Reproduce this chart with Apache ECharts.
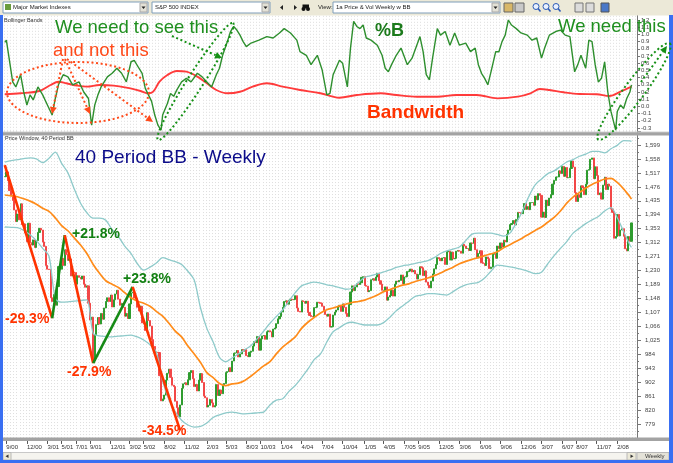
<!DOCTYPE html>
<html><head><meta charset="utf-8">
<script src="https://cdn.jsdelivr.net/npm/echarts@6/dist/echarts.min.js"></script>
<style>html,body{margin:0;padding:0;background:#fff;}#c{width:673px;height:463px;}</style>
</head><body><div id="c"></div>
<script>
// ---------------- DATA (read / estimated from the picture) ----------------
const weekStart = '2000-08-25';   // first weekly bar (Friday)
const weekCount = 401;            // weekly slots on the time axis

// Weekly closes of the S&P 500 index
const closes2000 = [1506,1520,1494,1465,1449,1436,1408,1374,1396,1379,1426,1365,1367,1341,1315,1369,1312,1305,1320];
const closes2001 = [1298,1318,1342,1354,1349,1314,1301,1245,1234,1233,1150,1139,1160,1128,1183,1242,1234,1266,1245,1291,1277,1260,1264,1214,1225,1224,1190,1215,1210,1205,1214,1190,1181,1185,1134,1085,1093,966,1041,1071,1092,1073,1104,1087,1120,1139,1150,1139,1158,1123,1144,1161];
const closes2002 = [1172,1146,1128,1133,1122,1096,1104,1089,1132,1164,1166,1149,1147,1122,1111,1125,1076,1073,1054,1106,1083,1067,1027,1007,990,990,989,921,847,852,864,908,928,940,916,893,889,846,827,800,835,884,897,900,894,909,930,936,912,889,895,876];
const closes2003 = [908,927,901,861,856,829,834,851,841,829,833,895,863,879,868,893,898,930,933,944,933,964,987,988,995,976,985,998,993,998,980,977,990,993,1008,1021,1018,1036,996,1029,1038,1039,1028,1050,1053,1050,1035,1058,1061,1074,1088,1095];
const closes2004 = [1108,1122,1139,1141,1131,1142,1146,1144,1145,1156,1120,1110,1108,1141,1139,1134,1140,1107,1098,1095,1094,1121,1122,1137,1135,1134,1125,1112,1101,1096,1102,1064,1065,1099,1108,1114,1123,1128,1110,1132,1122,1104,1095,1130,1167,1185,1171,1182,1191,1189,1194,1210,1212];
const closes2005 = [1186,1184,1168,1171,1203,1206,1201,1211,1222,1200,1190,1172,1172,1182,1143,1152,1157,1172,1155,1190,1199,1197,1201,1217,1191,1211,1212,1227,1229,1234,1226,1230,1220,1205,1218,1241,1238,1215,1229,1196,1187,1179,1199,1220,1235,1248,1268,1265,1259,1267,1268,1248];
const closes2006 = [1285,1287,1261,1284,1264,1266,1287,1289,1287,1281,1307,1302,1295,1295,1289,1311,1310,1325,1291,1267,1280,1288,1253,1251,1245,1270,1265,1236,1240,1278,1280,1266,1302,1295,1311,1299,1319,1314,1336,1349,1365,1368,1377,1364,1380,1401,1400,1397,1409,1427,1410,1418];
const closes2007 = [1409,1430,1430,1422,1449,1438,1456,1451,1387,1402,1386,1437,1421,1443,1453,1484,1495,1505,1505,1523,1515,1536,1507,1533,1503,1503,1530,1552,1534,1459,1433,1453,1445,1479,1474,1453,1484,1525,1527,1557,1561,1500,1535,1509,1453,1458,1440,1481,1504,1468,1484,1478];
const closes2008 = [1411,1401,1325,1330,1395,1332,1349,1353,1331,1294,1288,1330,1316,1370];

// 40 period Bollinger bands, read every 4th week (last point = final week)
const bandUpper = [1549,1553,1556,1559,1561,1558,1547,1560,1578,1545,1517,1470,1428,1400,1384,1384,1378,1350,1330,1302,1280,1250,1231,1240,1252,1268,1262,1256,1248,1228,1202,1120,1060,1020,975,962,973,985,997,1010,1030,1052,1075,1095,1114,1140,1165,1185,1192,1196,1193,1188,1185,1180,1175,1178,1195,1210,1215,1220,1226,1232,1239,1244,1247,1251,1255,1259,1268,1280,1288,1293,1299,1318,1337,1340,1340,1340,1336,1331,1340,1370,1405,1448,1482,1499,1515,1523,1536,1549,1556,1566,1572,1580,1580,1576,1588,1598,1612,1611,1610];
const bandMid   = [1452,1450,1447,1441,1434,1425,1413,1404,1385,1362,1347,1326,1305,1280,1248,1222,1200,1190,1180,1165,1150,1140,1134,1125,1110,1096,1075,1052,1035,1008,985,960,930,915,898,892,897,899,907,920,935,950,962,985,1005,1020,1035,1060,1078,1092,1105,1115,1120,1126,1131,1136,1139,1143,1150,1158,1168,1174,1181,1187,1191,1198,1203,1208,1215,1223,1232,1240,1250,1257,1263,1268,1274,1279,1285,1297,1306,1316,1326,1337,1348,1358,1372,1386,1405,1428,1446,1459,1472,1483,1491,1499,1501,1489,1470,1447,1440];
const bandLower = [1358,1357,1356,1348,1335,1318,1295,1272,1148,1137,1138,1140,1142,1144,1045,1038,1036,1035,1037,1039,1040,1035,1026,1012,990,905,850,815,790,776,770,772,782,798,806,812,814,811,809,810,812,814,835,849,853,875,892,915,940,968,985,1020,1050,1062,1074,1078,1074,1070,1070,1070,1077,1093,1112,1126,1140,1154,1158,1162,1162,1160,1158,1168,1180,1188,1192,1195,1208,1228,1246,1244,1241,1237,1233,1227,1221,1225,1250,1274,1295,1315,1340,1354,1368,1379,1389,1405,1415,1385,1345,1305,1298];

// %B (upper panel, green) : week index / value
const pctBWeek = [0,1,5,7,10,12,14,16,18,21,24,27,30,32,34,37,40,43,47,50,53,55,57,59,61,65,68,71,74,77,80,82,85,87,89,91,93,95,97,99,100,103,105,107,109,112,115,118,122,125,128,131,134,136,138,141,143,145,147,149,151,153,156,161,166,170,174,177,181,185,187,191,194,198,201,204,206,208,212,214,217,219,221,223,225,227,229,232,236,239,241,243,245,248,251,255,258,261,263,265,267,269,271,274,276,279,282,285,288,292,295,298,300,302,304,306,308,311,313,315,317,319,321,324,327,331,334,337,340,342,345,349,352,355,358,361,363,365,368,370,372,374,376,378,380,382,384,387,388,390,392,394,396,397];
const pctB     = [0.89,0.92,0.34,0.27,0.44,0.20,0.02,0.16,0.09,0.27,0.16,0.02,-0.12,0.11,0.30,0.44,0.41,0.30,0.34,0.20,0.11,-0.26,0.02,0.16,0.27,0.41,0.46,0.53,0.46,0.34,0.62,0.64,0.53,0.46,0.25,0.16,0.07,-0.12,-0.26,-0.33,-0.12,0.04,0.18,0.14,0.23,0.34,0.39,0.34,0.46,0.41,0.34,0.27,0.44,0.53,0.71,0.90,1.04,1.11,1.06,0.99,0.90,0.83,0.88,0.92,0.97,0.95,1.02,1.08,1.02,0.92,0.76,0.71,0.58,0.71,0.51,0.16,0.18,0.44,0.64,0.60,0.27,0.81,1.18,1.11,1.08,1.13,0.95,0.92,0.85,0.71,0.53,0.48,0.58,0.71,0.81,0.58,0.67,0.85,0.97,0.76,0.44,0.37,0.67,1.08,0.99,1.04,0.85,1.02,0.85,0.88,0.76,0.81,0.58,0.46,0.39,0.30,0.48,0.76,0.76,0.90,0.99,1.20,1.13,1.08,1.02,0.99,0.92,0.95,0.67,0.81,0.99,1.04,1.06,0.99,0.97,0.48,0.58,0.71,0.53,0.92,0.90,0.58,0.34,0.39,0.62,0.20,-0.07,-0.33,-0.07,0.02,-0.03,0.11,0.20,0.30];

// Bandwidth (upper panel, red) : week index / value
const bwWeek = [0,10,22,29,34,39,46,52,60,69,77,86,91,94,98,103,109,115,122,128,134,141,149,157,166,176,187,200,208,212,223,238,248,261,274,286,299,312,325,333,339,345,354,364,375,383,390,397];
const bw     = [0.168,0.182,0.214,0.297,0.343,0.321,0.288,0.274,0.297,0.288,0.26,0.214,0.182,0.204,0.343,0.436,0.492,0.482,0.413,0.321,0.228,0.182,0.204,0.274,0.321,0.274,0.228,0.182,0.135,0.121,0.158,0.182,0.158,0.135,0.135,0.158,0.158,0.112,0.135,0.182,0.242,0.228,0.196,0.172,0.168,0.144,0.204,0.274];

// Swing points of the drawn trend legs (week index, price) and their % labels
const swingWeek  = [0,30,38,56,81,111];
const swingPrice = [1540,1090,1334,958,1182,761];
const swingLabels = ['-29.3%','+21.8%','-27.9%','+23.8%','-34.5%'];

// Axis ticks
const xTickLabels = ['9/00','12/00','3/01','5/01','7/01','9/01','12/01','3/02','5/02','8/02','11/02','2/03','5/03','8/03','10/03','1/04','4/04','7/04','10/04','1/05','4/05','7/05','9/05','12/05','3/06','6/06','9/06','12/06','3/07','6/07','8/07','11/07','2/08'];
const priceMin = 738, priceMax = 1640, priceStep = 41;
const pctMin = -0.4, pctMax = 1.3, pctStep = 0.1;

// ---------------- BUILD ----------------
const FONT = '"Liberation Sans", Arial, sans-serif';
const closes = [].concat(closes2000,closes2001,closes2002,closes2003,closes2004,closes2005,closes2006,closes2007,closes2008);
const cats = [];
const t0 = Date.parse(weekStart + 'T00:00:00Z');
for (let i = 0; i < weekCount; i++) cats.push(new Date(t0 + i * 7 * 864e5).toISOString().slice(0, 10));
const labelAt = {};
xTickLabels.forEach(lab => {
  const p = lab.split('/').map(Number);
  const t = Date.UTC(2000 + p[1], p[0] - 1, 1);
  const idx = cats.findIndex(c => Date.parse(c + 'T00:00:00Z') >= t);
  if (idx >= 0) labelAt[idx] = lab;
});
const candles = closes.map((c, i) => { const o = i ? closes[i - 1] : c; return [o, c, Math.min(o, c), Math.max(o, c)]; });
const bandWeek = bandUpper.map((v, k) => k < bandUpper.length - 1 ? k * 4 : closes.length - 1);
const pair = (xs, ys) => xs.map((x, i) => [x, ys[i]]);

const legs = [];
for (let i = 0; i < swingWeek.length - 1; i++) {
  const up = swingPrice[i + 1] > swingPrice[i];
  legs.push({ type: 'line', xAxisIndex: 1, yAxisIndex: 1, z: 5, symbol: 'none', silent: true,
    data: [[swingWeek[i], swingPrice[i]], [swingWeek[i + 1], swingPrice[i + 1]]],
    lineStyle: { color: up ? '#168a16' : '#ff3300', width: 2.6 } });
}

// ---------------- GRAPHIC helpers (annotations / window chrome) ----------------
const G = [];
function rect(x, y, w, h, fill, stroke, z) { G.push({ type: 'rect', silent: true, z: z || 50, shape: { x, y, width: w, height: h }, style: { fill, stroke: stroke || null, lineWidth: 1 } }); }
function txt(x, y, s, size, color, weight, z, align) { G.push({ type: 'text', silent: true, z: z || 60, x, y, style: { text: s, fill: color, fontSize: size, fontFamily: FONT, fontWeight: weight || 'normal', verticalAlign: 'middle', align: align || 'left' } }); }
function ellipse(cx, cy, a, b, deg, color) {
  const th = deg * Math.PI / 180, pts = [];
  for (let i = 0; i < 90; i++) { const t = i / 90 * 2 * Math.PI;
    pts.push([cx + a * Math.cos(t) * Math.cos(th) - b * Math.sin(t) * Math.sin(th), cy + a * Math.cos(t) * Math.sin(th) + b * Math.sin(t) * Math.cos(th)]); }
  G.push({ type: 'polygon', silent: true, z: 60, shape: { points: pts }, style: { fill: null, stroke: color, lineWidth: 2, lineDash: [2, 2.6] } });
}
function arrow(x1, y1, x2, y2, color) {
  const ang = Math.atan2(y2 - y1, x2 - x1), L = 7, W = 3.5;
  const bx = x2 - L * Math.cos(ang), by = y2 - L * Math.sin(ang);
  G.push({ type: 'polyline', silent: true, z: 60, shape: { points: [[x1, y1], [bx, by]] }, style: { fill: null, stroke: color, lineWidth: 2, lineDash: [2, 2.6] } });
  G.push({ type: 'polygon', silent: true, z: 60, shape: { points: [[x2, y2], [bx - W * Math.sin(ang), by + W * Math.cos(ang)], [bx + W * Math.sin(ang), by - W * Math.cos(ang)]] }, style: { fill: color } });
}
function tri(pts, color, z) { G.push({ type: 'polygon', silent: true, z: z || 52, shape: { points: pts }, style: { fill: color } }); }

// window chrome
rect(0, 0, 673, 15.5, '#ece9d8', null, 50);
rect(3, 131.5, 666, 1, '#d4d4d4', null, 50);
rect(3, 132.3, 666, 3.2, '#a3a3a3', null, 50);
rect(3, 437.6, 666, 3.4, '#a3a3a3', null, 50);
rect(3, 452.5, 666, 7.5, '#f5f4ef', '#c8c8c8', 50);
rect(3, 452.5, 8, 7.5, '#ece9d8', '#b8b8b8', 51);
tri([[8.5, 454.5], [8.5, 458], [5.5, 456.2]], '#333');
rect(627, 452.5, 9, 7.5, '#ece9d8', '#b8b8b8', 51);
tri([[630.5, 454.5], [630.5, 458], [633.5, 456.2]], '#333');
rect(637, 452.5, 32, 7.5, '#e4e2d8', '#b8b8b8', 51);
txt(645, 456.5, 'Weekly', 6, '#333', 'normal', 52);
rect(0, 15, 3, 448, '#3a6ff2', null, 55);
rect(669, 15, 4, 448, '#3a6ff2', null, 55);
rect(0, 460, 673, 3, '#3a6ff2', null, 55);
// toolbar
rect(3, 2, 145, 11, '#ffffff', '#7f9db9', 51);
rect(5, 4, 6, 6, '#6a9c3c', null, 52);
txt(13, 7.6, 'Major Market Indexes', 6, '#222', 'normal', 52);
rect(140, 3, 7, 9, '#e3e1d6', '#a9a9a9', 52);
tri([[141.5, 6.5], [145.5, 6.5], [143.5, 9]], '#222', 53);
rect(152, 2, 118, 11, '#ffffff', '#7f9db9', 51);
txt(155, 7.6, 'S&P 500 INDEX', 6, '#222', 'normal', 52);
rect(262, 3, 7, 9, '#e3e1d6', '#a9a9a9', 52);
tri([[263.5, 6.5], [267.5, 6.5], [265.5, 9]], '#222', 53);
tri([[283, 5], [283, 10], [280, 7.5]], '#222');
tri([[294, 5], [294, 10], [297, 7.5]], '#222');
G.push({ type: 'circle', silent: true, z: 52, shape: { cx: 303.5, cy: 9, r: 2 }, style: { fill: '#111' } });
G.push({ type: 'circle', silent: true, z: 52, shape: { cx: 308, cy: 9, r: 2 }, style: { fill: '#111' } });
rect(302.5, 4.5, 6.5, 4, '#111', null, 52);
txt(318, 7.6, 'View:', 6, '#222', 'normal', 52);
rect(333, 2, 167, 11, '#ffffff', '#7f9db9', 51);
txt(336, 7.6, '1a Price & Vol Weekly w BB', 6, '#222', 'normal', 52);
rect(492, 3, 7, 9, '#e3e1d6', '#a9a9a9', 52);
tri([[493.5, 6.5], [497.5, 6.5], [495.5, 9]], '#222', 53);
rect(504, 3, 9, 9, '#d8b768', '#666', 52);
rect(515, 3, 9, 9, '#c9c9c9', '#666', 52);
[536, 546, 556].forEach(cx => {
  G.push({ type: 'circle', silent: true, z: 52, shape: { cx, cy: 6.5, r: 3 }, style: { fill: '#e8f0ff', stroke: '#2d5bb5', lineWidth: 1 } });
  G.push({ type: 'line', silent: true, z: 52, shape: { x1: cx + 2, y1: 8.5, x2: cx + 4.5, y2: 11.5 }, style: { stroke: '#2d5bb5', lineWidth: 1.5 } });
});
rect(575, 3, 8, 9, '#dcdcdc', '#777', 52);
rect(586, 3, 8, 9, '#dcdcdc', '#777', 52);
rect(601, 3, 8, 9, '#4a78c8', '#555', 52);
// panel captions
txt(4, 20.5, 'Bollinger Bands', 5.5, '#333', 'normal', 52);
txt(5, 138.6, 'Price Window, 40 Period BB', 5.5, '#333', 'normal', 52);
// annotations
ellipse(78, 92.5, 71, 30.5, 0, '#ff4a1a');
arrow(63, 59, 52, 114, '#ff4a1a');
arrow(65, 59, 90, 114, '#ff4a1a');
arrow(67, 59, 153, 122, '#ff4a1a');
ellipse(195.5, 81.5, 69.5, 8, -57.3, '#159015');
arrow(172, 36, 222, 58, '#159015');
ellipse(634, 91.5, 60, 10, -53.4, '#159015');
arrow(641, 82, 667, 46, '#159015');
txt(55, 27.5, 'We need to see this', 18.5, '#1f8f1f');
txt(53, 51, 'and not this', 18.5, '#ff4a1a');
txt(558, 26.5, 'We need this', 18.5, '#1f8f1f');
txt(375, 31.5, '%B', 18, '#1b7a1b', 'bold');
txt(367, 112.5, 'Bandwidth', 19, '#ff3300', 'bold');
txt(75, 157.5, '40 Period BB - Weekly', 19, '#0c0c8a');
const lblPos = [[5, 319], [72, 234], [67, 372.5], [123, 279], [142, 431]];
swingLabels.forEach((s, i) => txt(lblPos[i][0], lblPos[i][1], s, 14, s[0] === '+' ? '#138013' : '#ff3300', 'bold'));

// ---------------- OPTION ----------------
const vSplit = { show: true, interval: 1, lineStyle: { color: '#dedede', width: 1, type: [1, 2] } };
const option = {
  animation: false,
  backgroundColor: '#ffffff',
  grid: [
    { left: 4, right: 36, top: 12.8, height: 122.4, outerBoundsMode: 'none' },
    { left: 4, right: 36, top: 131.05, height: 306.9, outerBoundsMode: 'none' }
  ],
  xAxis: [
    { type: 'category', gridIndex: 0, data: cats, boundaryGap: true, axisLine: { show: false }, axisTick: { show: false }, axisLabel: { show: false }, splitLine: vSplit },
    { type: 'category', gridIndex: 1, data: cats, boundaryGap: true, axisLine: { show: false },
      axisTick: { show: true, alignWithLabel: true, interval: i => labelAt[i] !== undefined, length: 6, lineStyle: { color: '#555' } },
      axisLabel: { show: true, interval: i => labelAt[i] !== undefined, formatter: (v, i) => labelAt[i] || '', align: 'left', margin: 6.5, fontSize: 6, color: '#333', fontFamily: FONT },
      splitLine: vSplit }
  ],
  yAxis: [
    { type: 'value', gridIndex: 0, position: 'right', min: pctMin, max: pctMax, interval: pctStep,
      axisLine: { show: true, lineStyle: { color: '#777' } }, axisTick: { show: true, length: 3, lineStyle: { color: '#777' } },
      axisLabel: { fontSize: 6, color: '#444', margin: 4, fontFamily: FONT, showMinLabel: false, showMaxLabel: false, formatter: v => (Math.abs(v) < 1e-9 ? 0 : v).toFixed(1) },
      splitLine: { show: false } },
    { type: 'value', gridIndex: 1, position: 'right', min: priceMin, max: priceMax, interval: priceStep,
      axisLine: { show: true, lineStyle: { color: '#777' } }, axisTick: { show: true, length: 4, lineStyle: { color: '#777' } },
      minorTick: { show: true, splitNumber: 2, length: 2, lineStyle: { color: '#777' } },
      axisLabel: { fontSize: 6, color: '#444', margin: 8, fontFamily: FONT, showMinLabel: false, showMaxLabel: false },
      splitLine: { show: false } }
  ],
  series: [
    { type: 'line', xAxisIndex: 0, yAxisIndex: 0, symbol: 'none', silent: true, z: 3, smooth: 0.35, data: pair(bwWeek, bw), lineStyle: { color: '#ff3b3b', width: 1.9 } },
    { type: 'line', xAxisIndex: 0, yAxisIndex: 0, symbol: 'none', silent: true, z: 4, data: pair(pctBWeek, pctB), lineStyle: { color: '#2e8f2e', width: 1.4 } },
    { type: 'candlestick', xAxisIndex: 1, yAxisIndex: 1, silent: true, z: 2, barWidth: 1.6, data: candles,
      itemStyle: { color: '#2f9c2f', color0: '#f24848', borderColor: '#2f9c2f', borderColor0: '#f24848', borderWidth: 1 } },
    { type: 'line', xAxisIndex: 1, yAxisIndex: 1, symbol: 'none', silent: true, z: 3, smooth: 0.3, data: pair(bandWeek, bandUpper), lineStyle: { color: '#8ecaca', width: 1.3 } },
    { type: 'line', xAxisIndex: 1, yAxisIndex: 1, symbol: 'none', silent: true, z: 3, smooth: 0.3, data: pair(bandWeek, bandLower), lineStyle: { color: '#8ecaca', width: 1.3 } },
    { type: 'line', xAxisIndex: 1, yAxisIndex: 1, symbol: 'none', silent: true, z: 3, smooth: 0.3, data: pair(bandWeek, bandMid), lineStyle: { color: '#ff8c1a', width: 1.7 } }
  ].concat(legs),
  graphic: { elements: G }
};
const chart = echarts.init(document.getElementById('c'), null, { renderer: 'canvas', width: 673, height: 463 });
chart.setOption(option);
</script>
</body></html>
